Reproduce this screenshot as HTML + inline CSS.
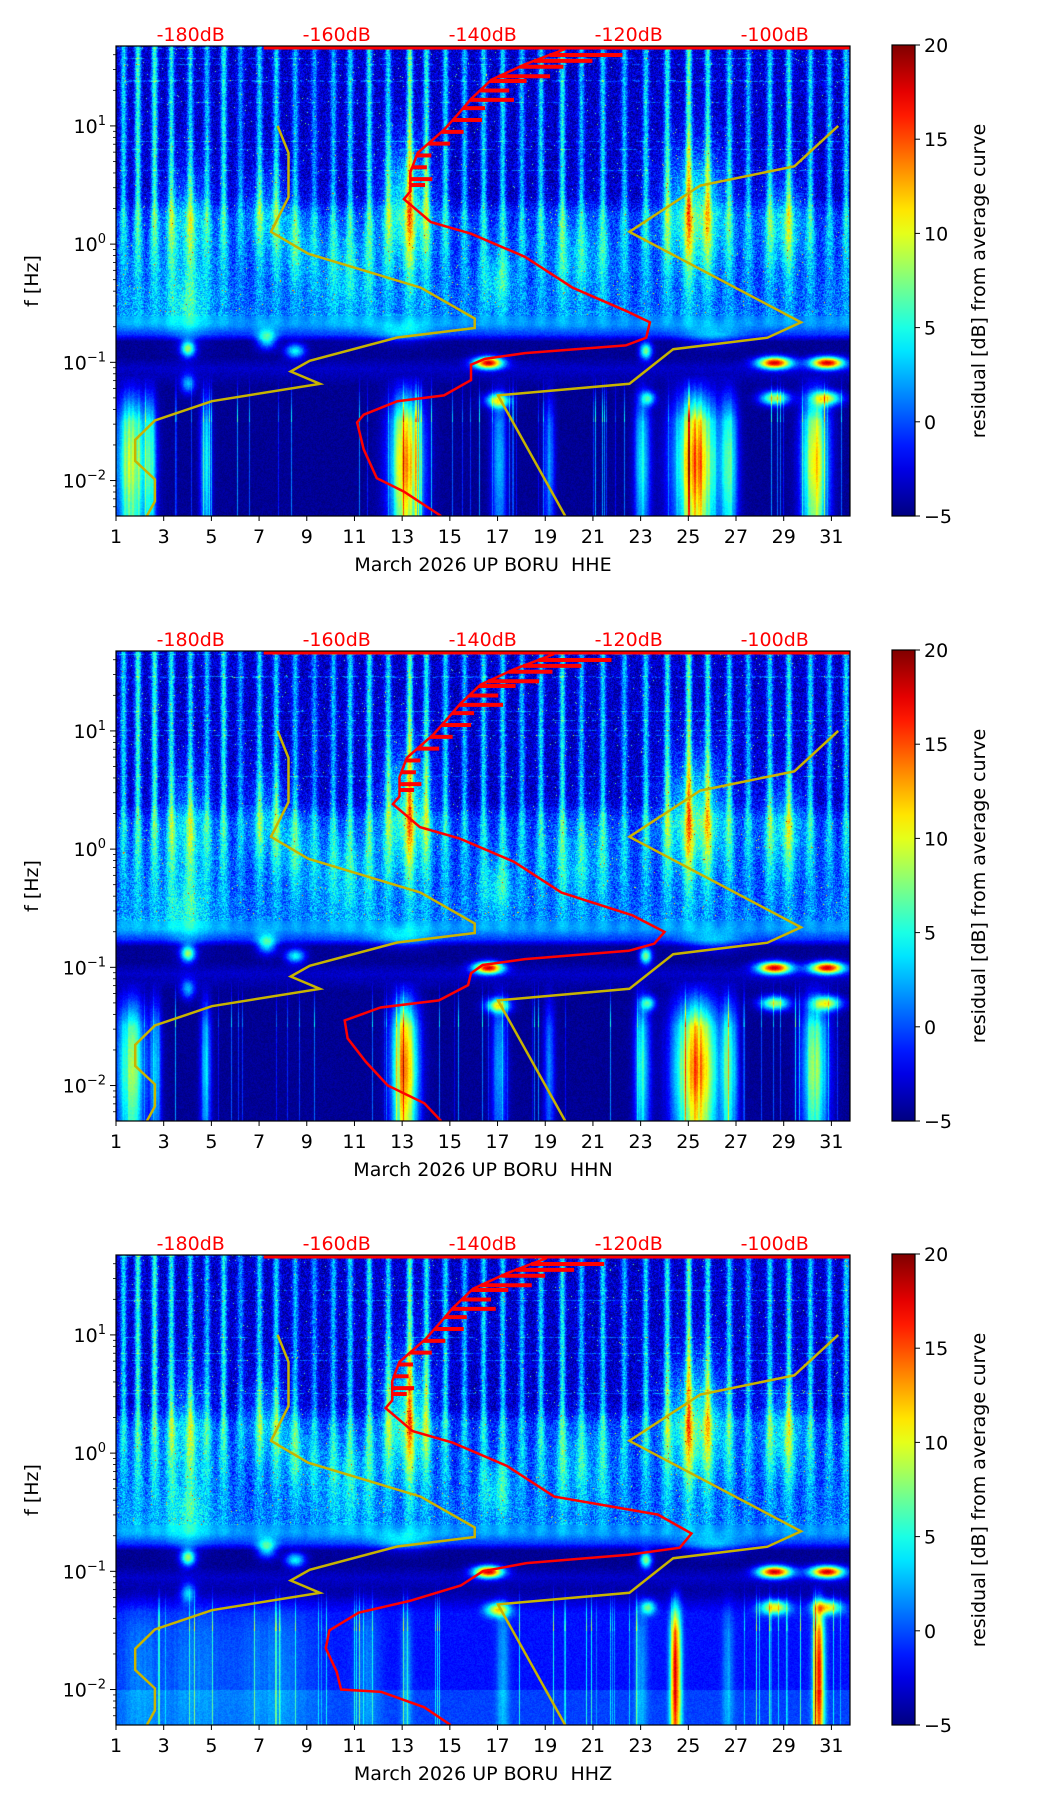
<!DOCTYPE html>
<html><head><meta charset="utf-8">
<style>
html,body{margin:0;padding:0;background:#fff;}
#root{position:relative;width:1052px;height:1806px;overflow:hidden;font-family:"DejaVu Sans","Liberation Sans",sans-serif;}
canvas{position:absolute;}
svg{position:absolute;left:0;top:0;}
text{white-space:pre;}
</style></head>
<body>
<div id="root">
<svg id="svg" width="1052" height="1806"></svg>
</div>
<script>
// ---------- data ----------
const channels = ["HHE","HHN","HHZ"];
const dayTicks = [1,3,5,7,9,11,13,15,17,19,21,23,25,27,29,31];
const dbTicks = [-180,-160,-140,-120,-100];
const cbTicks = [20,15,10,5,0,-5];
const yTickExp = [1,0,-1,-2];
// high-frequency streak events: day, amplitude
const streakDays = [1.3,1.9,2.6,3.3,4.1,4.8,5.5,6.2,7.0,7.7,8.5,9.3,10.1,10.8,11.6,12.4,13.3,14.0,14.8,15.6,16.4,17.2,18.0,18.8,19.7,20.5,21.4,22.3,23.2,24.1,25.0,25.8,26.7,27.5,28.4,29.2,30.1,30.9,31.6];
const streakAmp  = [7,9,9,8,7,6,8,5,7,7,6,5,6,7,8,7,10,8,7,6,7,7,6,7,8,6,7,6,7,8,10,8,7,6,7,8,7,6,7];
// blobs: day, log10(f), amplitude, day width, log width
const blobDay = [4.0,7.3,8.5,13.2,17.0,25.3,29.0,4.0,7.3,8.5,23.2,16.6,28.6,30.8,4.0,17.0,23.3,28.6,30.8,13.0,26.0,4.0,20.5,10.5];
const blobLf  = [0.2,0.3,0.0,0.35,-0.3,0.3,0.2,-0.88,-0.8,-0.9,-0.9,-1.0,-1.0,-1.0,-1.18,-1.32,-1.3,-1.3,-1.3,-0.75,-0.78,-0.5,-0.1,-0.2];
const blobAmp = [5,4,3,8,4,8,5,12,9,9,12,22,22,22,7,13,9,13,13,4,4,4,3,3];
const blobWd  = [1.0,0.9,0.7,1.0,0.7,1.3,0.9,0.3,0.4,0.4,0.25,0.6,0.7,0.7,0.3,0.5,0.3,0.6,0.6,1.2,1.2,0.8,1.5,1.5];
const blobWl  = [0.45,0.35,0.35,0.5,0.25,0.5,0.4,0.07,0.08,0.06,0.07,0.05,0.05,0.05,0.08,0.06,0.06,0.06,0.06,0.08,0.08,0.3,0.4,0.4];
// low-frequency bands per channel: start day, end day, amplitude
const lowStart = [[1.0,2.3,4.6,12.5,16.8,22.8,24.4,26.4,29.8,19.0],[1.0,2.5,4.6,12.6,16.8,22.8,24.4,26.4,29.8,19.0],[1.0,3.0,5.5,13.0,24.3,30.3,22.8,17.0,26.5,11.0]];
const lowEnd   = [[2.3,2.6,4.9,13.8,17.3,23.3,26.2,27.0,30.8,19.3],[2.2,2.8,4.9,13.6,17.3,23.3,26.2,27.0,30.8,19.3],[3.0,5.5,9.5,13.3,24.6,30.6,23.2,17.4,26.8,12.0]];
const lowAmp   = [[16,9,10,21,8,11,21,11,18,7],[14,9,9,21,8,11,21,11,15,7],[3,3,3,4,22,22,4,4,4,3]];
const lowBase  = [-4.5,-4.5,-1.5];
// noise models (dB, log10 f)
const nlnmDb = [-168.1,-166.6,-166.6,-169.0,-163.9,-148.5,-141.1,-141.1,-151.7,-163.7,-166.3,-162.3,-177.1,-184.9,-187.6,-187.6,-184.9,-184.9,-186.0];
const nlnmLf = [1.0,0.772,0.397,0.104,-0.081,-0.368,-0.629,-0.710,-0.79,-0.987,-1.078,-1.182,-1.329,-1.492,-1.655,-1.834,-1.990,-2.176,-2.30];
const nhnmDb = [-91.3,-97.3,-110.2,-119.9,-96.4,-101.0,-113.9,-119.9,-137.9,-128.7];
const nhnmLf = [1.0,0.658,0.495,0.104,-0.661,-0.792,-0.889,-1.182,-1.280,-2.30];
// mean PSD curves per channel
const psdTopDb = [-128.7,-134.2,-138.8,-141.6,-143.4,-145.3,-147.1,-148.9,-149.9,-149.9,-150.8,-147.1,-141.6,-134.2,-127.7];
const psdTopLf = [1.651,1.521,1.391,1.228,1.098,0.967,0.870,0.772,0.609,0.446,0.381,0.186,0.088,-0.107,-0.368];
const psdLowDb = [
 [-120.4,-117.1,-117.6,-120.4,-134.2,-139.7,-141.6,-141.6,-145.3,-151.7,-156.3,-157.2,-156.3,-154.5,-150.8,-145.7],
 [-119.5,-115.1,-116.5,-120.0,-134.2,-140.0,-141.6,-142.0,-146.0,-154.0,-158.9,-158.5,-156.0,-153.0,-148.0,-145.7],
 [-116.0,-111.4,-113.0,-120.0,-134.0,-140.0,-143.0,-150.0,-157.0,-161.0,-161.5,-160.0,-159.4,-153.9,-148.0,-144.4]];
const psdLowLf = [
 [-0.564,-0.661,-0.792,-0.857,-0.922,-0.971,-1.020,-1.150,-1.280,-1.329,-1.443,-1.508,-1.736,-1.980,-2.094,-2.30],
 [-0.56,-0.70,-0.80,-0.86,-0.93,-0.98,-1.05,-1.15,-1.28,-1.34,-1.45,-1.60,-1.80,-2.00,-2.15,-2.30],
 [-0.52,-0.68,-0.80,-0.86,-0.93,-1.00,-1.12,-1.25,-1.35,-1.50,-1.65,-1.85,-2.00,-2.02,-2.15,-2.30]];
// spikes in the high-frequency mean curve: log f, extra dB
const spikeLf = [1.60,1.55,1.50,1.42,1.38,1.30,1.22,1.15,1.05,0.95,0.85,0.75,0.65,0.55,0.5];
const spikeDb = [10,8,6,7,5,4,6,3,4,3,3,2,2,3,2];

// ---------- layout ----------
const L=116, W=734, H=470, tops=[46,651,1255];
const D0=1, D1=31.78, LF0=-2.30, LF1=1.676;
const FS=19;
const xDay = d => L + (d-D0)/(D1-D0)*W;
const yLf = (top,lf) => top + (LF1-lf)/(LF1-LF0)*H;
const xDb = db => 190.7 + (db+180)/20*146.0;
const NS="http://www.w3.org/2000/svg";
const svg=document.getElementById('svg');
const root=document.getElementById('root');
function mk(tag, attrs, parent){const e=document.createElementNS(NS,tag);for(const k in attrs)e.setAttribute(k,attrs[k]);(parent||svg).appendChild(e);return e;}
function jet(t){t=Math.max(0,Math.min(1,t));const c=v=>Math.max(0,Math.min(1,v));
 return [c(1.5-Math.abs(4*t-3))*255,c(1.5-Math.abs(4*t-2))*255,c(1.5-Math.abs(4*t-1))*255];}
function hash(x,y,s){let h=(x*374761393+y*668265263+s*2147483647)|0;h=(h^(h>>>13))*1274126177|0;h=h^(h>>>16);return ((h>>>0)%10000)/10000;}
const baseLfArr=[1.7,0.4,0.25,-0.3,-0.55,-0.68,-0.76,-0.82,-0.95,-1.05,-1.2,-2.3];
const baseValArr=[-3.2,-3.2,-1.0,-1.2,-0.5,0.8,-0.5,-4.5,-4.5,-3.2,-4.5,-4.5];
function baseAt(lf){for(let i=0;i<baseLfArr.length-1;i++){if(lf<=baseLfArr[i]&&lf>=baseLfArr[i+1]){const t=(baseLfArr[i]-lf)/(baseLfArr[i]-baseLfArr[i+1]);return baseValArr[i]+t*(baseValArr[i+1]-baseValArr[i]);}}return -4.5;}

function drawSpec(p){
 const cv=document.createElement('canvas');cv.width=W;cv.height=H;
 cv.style.left=L+'px';cv.style.top=tops[p]+'px';
 
 
 root.insertBefore(cv,svg);
 const ctx=cv.getContext('2d');const img=ctx.createImageData(W,H);
 const colFac=new Float32Array(W), colMod=new Float32Array(W);
 for(let x=0;x<W;x++){colFac[x]=hash(x,7,p);colMod[x]=hash(x>>1,11,p);}
 for(let y=0;y<H;y++){
  const lf=LF1-(y/H)*(LF1-LF0);
  let b=baseAt(lf);
  if(p===2){const t=Math.max(0,Math.min(1,(-1.15-lf)/0.2));b=b*(1-t)+(lowBase[2]+(lf<-2.0?1.2:0))*t;}
  const hi=lf>0.35?1:(lf>-0.75?0.3*(lf+0.75)/0.1*(lf<-0.65?1:0)+(lf>=-0.65?0.3+0.7*(lf+0.65):0):0);
  const sw=lf>0.35?0.13:0.13+0.2*(0.35-lf);
  const lowFade=Math.max(0,Math.min(1,(-1.1-lf)/0.4));
  const vshape=0.75+0.25*Math.exp(-Math.pow((lf+1.85)/0.35,2));
  for(let x=0;x<W;x++){
   const d=D0+(x/W)*(D1-D0);
   let v=b;
   if(hi>0){for(let i=0;i<streakDays.length;i++){const dd=(d-streakDays[i])/sw;if(dd*dd<9)v+=hi*streakAmp[i]*Math.exp(-dd*dd);}}
   for(let i=0;i<blobDay.length;i++){const dd=(d-blobDay[i])/blobWd[i],dl=(lf-blobLf[i])/blobWl[i];const q=dd*dd+dl*dl;if(q<9)v+=blobAmp[i]*Math.exp(-q);}
   if(lowFade>0){const ls=lowStart[p],le=lowEnd[p],la=lowAmp[p];
    for(let i=0;i<ls.length;i++){const c=(ls[i]+le[i])/2,w=(le[i]-ls[i])/2+0.1;const dd=(d-c)/w;if(dd*dd<6)v+=lowFade*vshape*la[i]*Math.exp(-dd*dd*1.3)*(0.75+0.25*colMod[x]);}
    if(colFac[x]>0.93)v+=lowFade*(colFac[x]-0.9)*110*(lf<-1.5?0.6:1);
   }
   const n=hash(x,y,p+1);
   v+= lf>-0.6 ? (n*4.5-2.3) + (n>0.996?8:0) : (n-0.5)*1.2;
   if(lf>0.4&&hash(y,3,p)>0.94)v+=3*(hash(x>>2,y,p)>0.5?1:0);
   const c=jet((v+5)/25);const k=(y*W+x)*4;
   img.data[k]=c[0];img.data[k+1]=c[1];img.data[k+2]=c[2];img.data[k+3]=255;
  }
 }
 ctx.putImageData(img,0,0);
}

function polyPts(top,dbs,lfs){return dbs.map((db,i)=>xDb(db).toFixed(1)+','+yLf(top,lfs[i]).toFixed(1)).join(' ');}

for(let p=0;p<3;p++){
 drawSpec(p);
 const top=tops[p];
 const g=mk('g',{});
 
 
 const clip=mk('clipPath',{id:'clip'+p},g);mk('rect',{x:L,y:top,width:W,height:H},clip);
 const lines=mk('g',{'clip-path':'url(#clip'+p+')'},g);
 const tl=mk('line',{x1:xDb(-170),y1:top+2,x2:L+W,y2:top+2,stroke:'#ff0000','stroke-width':3},lines);
 
 
 const nl=mk('polyline',{points:polyPts(top,nlnmDb,nlnmLf),fill:'none',stroke:'#c8b400','stroke-width':2.5},lines);
 
 
 const nh=mk('polyline',{points:polyPts(top,nhnmDb,nhnmLf),fill:'none',stroke:'#c8b400','stroke-width':2.5},lines);
 
 
 const off=p===0?0:(p===1?-1.5:-2.5);
 const dbs=psdTopDb.map(v=>v+off).concat(psdLowDb[p]);
 const lfs=psdTopLf.concat(psdLowLf[p]);
 const pc=mk('polyline',{points:polyPts(top,dbs,lfs),fill:'none',stroke:'#ff0000','stroke-width':2.5},lines);
 
 
 for(let i=0;i<spikeLf.length;i++){
  let db=psdTopDb[0];for(let j=0;j<psdTopLf.length-1;j++){if(spikeLf[i]<=psdTopLf[j]&&spikeLf[i]>=psdTopLf[j+1]){const t=(psdTopLf[j]-spikeLf[i])/(psdTopLf[j]-psdTopLf[j+1]);db=psdTopDb[j]+t*(psdTopDb[j+1]-psdTopDb[j]);}}
  db+=off;
  const s=mk('line',{x1:xDb(db),x2:xDb(db+spikeDb[i]),y1:yLf(top,spikeLf[i]),y2:yLf(top,spikeLf[i]),stroke:'#ff0000','stroke-width':4},lines);
  
  
 }
 mk('rect',{x:L,y:top,width:W,height:H,fill:'none',stroke:'#000','stroke-width':1.2},g);
 dayTicks.forEach(d=>{const x=xDay(d);mk('line',{x1:x,x2:x,y1:top+H,y2:top+H+5,stroke:'#000'},g);
  const t=mk('text',{x:x,y:top+H+27,'text-anchor':'middle','font-size':FS},g);t.textContent=d;
  
  });
 const xl=mk('text',{x:L+W/2,y:top+H+55,'text-anchor':'middle','font-size':FS},g);xl.textContent='March 2026 UP BORU\u00a0\u00a0'+channels[p];
 
 
 dbTicks.forEach(db=>{const t=mk('text',{x:xDb(db),y:top-5,'text-anchor':'middle','font-size':FS,fill:'#ff0000'},g);t.textContent=db+'dB';
  
  });
 for(let e=-3;e<=1;e++){for(let m=1;m<10;m++){const lf=e+Math.log10(m);if(lf<LF0||lf>LF1)continue;const y=yLf(top,lf);
  mk('line',{x1:L-(m===1?6:3),x2:L,y1:y,y2:y,stroke:'#000','stroke-width':m===1?1:0.8},g);}}
 yTickExp.forEach(e=>{const y=yLf(top,e);const t=mk('text',{x:L-10,y:y+7,'text-anchor':'end','font-size':FS},g);
  t.appendChild(document.createTextNode('10'));const s=mk('tspan',{dy:-8,'font-size':13},t);s.textContent=e<0?'\u2212'+(-e):e;
  
  });
 const yl=mk('text',{x:0,y:0,transform:'translate(38,'+(top+H/2)+') rotate(-90)','text-anchor':'middle','font-size':FS},g);yl.textContent='f [Hz]';
 
 
 const cb=mk('g',{},g);
 
 
 const gid='cbg'+p;const lg=mk('linearGradient',{id:gid,x1:0,y1:1,x2:0,y2:0},cb);
 for(let i=0;i<=20;i++){const c=jet(i/20);mk('stop',{offset:(i/20),'stop-color':'rgb('+c.map(Math.round).join(',')+')'},lg);}
 const cbTop=top-1, cbH=H+1;
 mk('rect',{x:892,y:cbTop,width:23,height:cbH,fill:'url(#'+gid+')',stroke:'#000','stroke-width':1.2},cb);
 cbTicks.forEach(v=>{const y=cbTop+(20-v)/25*cbH;mk('line',{x1:915,x2:920,y1:y,y2:y,stroke:'#000'},cb);
  const t=mk('text',{x:924,y:y+7,'font-size':FS},cb);t.textContent=v<0?'\u2212'+(-v):v;
  
  });
 const cl=mk('text',{x:0,y:0,transform:'translate(985,'+(top+H/2)+') rotate(-90)','text-anchor':'middle','font-size':FS},cb);cl.textContent='residual [dB] from average curve';
 
 
}
</script>
</body></html>
